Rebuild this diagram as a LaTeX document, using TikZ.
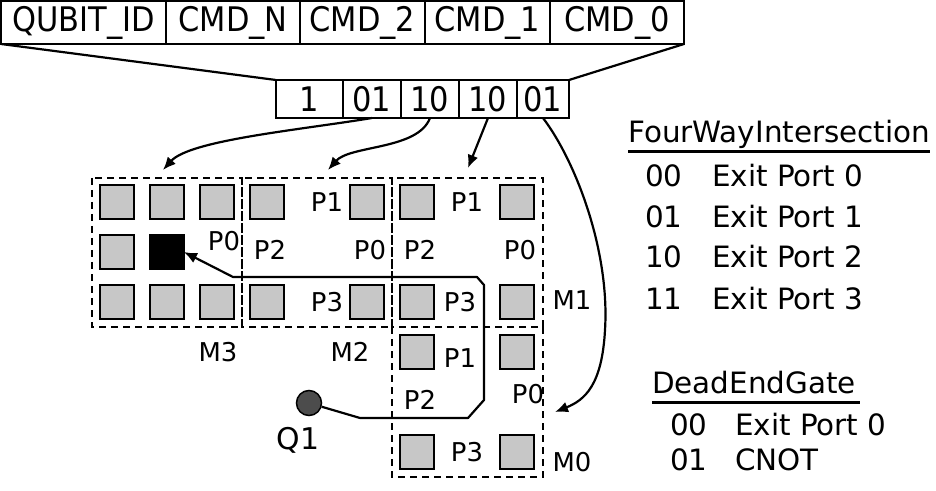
\documentclass[tikz,border=0pt]{standalone}
\usepackage{fontspec}
\setmainfont{DejaVu Sans}
\newfontfamily\cond{DejaVu Sans Condensed}
\usetikzlibrary{arrows.meta}
\begin{document}
\begin{tikzpicture}[x=1bp,y=-1bp,
  sq/.style={draw=black,line width=1.8bp,fill=black!22,minimum size=34bp,inner sep=0,outer sep=0},
  lbl/.style={font=\fontsize{26}{26}\selectfont,inner sep=0},
  cell/.style={draw,line width=1.8bp,font=\cond\fontsize{34}{34}\selectfont,inner sep=0,outer sep=0,anchor=north west},
  mod/.style={draw,dashed,line width=1.4bp,dash pattern=on 7bp off 5bp},
  arr/.style={line width=2.2bp,-{Latex[length=13bp,width=11bp]}},
  tab/.style={font=\fontsize{29.5}{29.5}\selectfont,inner sep=0,anchor=base west}]
\useasboundingbox (0,0) rectangle (936,491);
% top table
\node[cell,minimum width=165bp,minimum height=43bp] (c1) at (1,1) {QUBIT\_ID};
\node[cell,minimum width=134bp,minimum height=43bp] (c2) at (166,1) {CMD\_N};
\node[cell,minimum width=125bp,minimum height=43bp] (c3) at (300,1) {CMD\_2};
\node[cell,minimum width=125bp,minimum height=43bp] (c4) at (425,1) {CMD\_1};
\node[cell,minimum width=134bp,minimum height=43bp] (c5) at (550,1) {CMD\_0};
% bit row
\node[cell,minimum width=67bp,minimum height=38bp] (b1) at (276,80) {1};
\node[cell,minimum width=58bp,minimum height=38bp] (b2) at (343,80) {01};
\node[cell,minimum width=58bp,minimum height=38bp] (b3) at (401,80) {10};
\node[cell,minimum width=58bp,minimum height=38bp] (b4) at (459,80) {10};
\node[cell,minimum width=52bp,minimum height=38bp] (b5) at (517,80) {01};
\draw[line width=2.2bp] (c1.south west) -- (b1.north west);
\draw[line width=2.2bp] (c5.south east) -- (b5.north east);
% modules
\draw[mod] (92,178) rectangle (242,327);
\draw[mod] (242,178) rectangle (392,327);
\draw[mod] (392,178) rectangle (543,327);
\draw[mod] (392,327) rectangle (543,477);
% squares
\foreach \x/\y [count=\i] in {117/202,167/202,217/202,117/252,117/302,167/302,217/302,
  267/202,367/202,267/302,367/302, 417/202,517/202,417/302,517/302, 417/352,517/352,417/452,517/452}
  \node[sq] (s\i) at (\x,\y) {};
\node[sq,fill=black] (blk) at (167,252) {};
% labels
\foreach \t/\x/\y in {P0/224/241, P1/327/202,P2/270/250,P0/370/250,P3/327/302,
  P1/467/202,P2/420/250,P0/520/250,P3/460/302,
  P1/460/358,P2/420/400,P0/528/394,P3/467/452,
  M3/218/352,M2/350/352,M1/572/300,M0/572/462}
  \node[lbl] at (\x,\y) {\t};
% qubit path
\node[circle,draw,line width=1.5bp,fill=black!70,minimum size=25bp,inner sep=0] (q) at (309,403) {};
\node[font=\fontsize{30}{30}\selectfont,inner sep=0] (ql) at (298,440) {Q1};
\coordinate (p1) at (360,418);
\coordinate (p2) at (468,418);
\coordinate (p3) at (484,400);
\coordinate (p4) at (484,285);
\coordinate (p5) at (477,277);
\coordinate (p6) at (233,277);
\draw[arr,line join=round] (q) -- (p1) -- (p2) -- (p3) -- (p4) -- (p5) -- (p6) -- (blk.east);
% command arrows
\draw[arr] (b2.south) .. controls (300,130) and (190,140) .. (163,170);
\draw[arr] (b3.south) .. controls (418,150) and (350,145) .. (328,170);
\draw[arr] (b4.south) -- (468,168);
\draw[arr] (b5.south) .. controls (575,160) and (610,250) .. (605,330) .. controls (602,385) and (585,400) .. (555,412);
% legends
\node[tab] (fw) at (628,143) {FourWayIntersection};
\draw[line width=3bp] (628,152) -- (930,152);
\foreach \c/\t/\y in {00/Exit Port 0/187,01/Exit Port 1/228,10/Exit Port 2/268,11/Exit Port 3/310}{
  \node[tab] at (645,\y) {\c};
  \node[tab] at (712,\y) {\t};}
\node[tab] (de) at (652,393) {DeadEndGate};
\draw[line width=3bp] (652,402) -- (860,402);
\node[tab] at (670,435) {00};
\node[tab] at (735,435) {Exit Port 0};
\node[tab] at (670,470) {01};
\node[tab] at (735,470) {CNOT};
\end{tikzpicture}
\end{document}
